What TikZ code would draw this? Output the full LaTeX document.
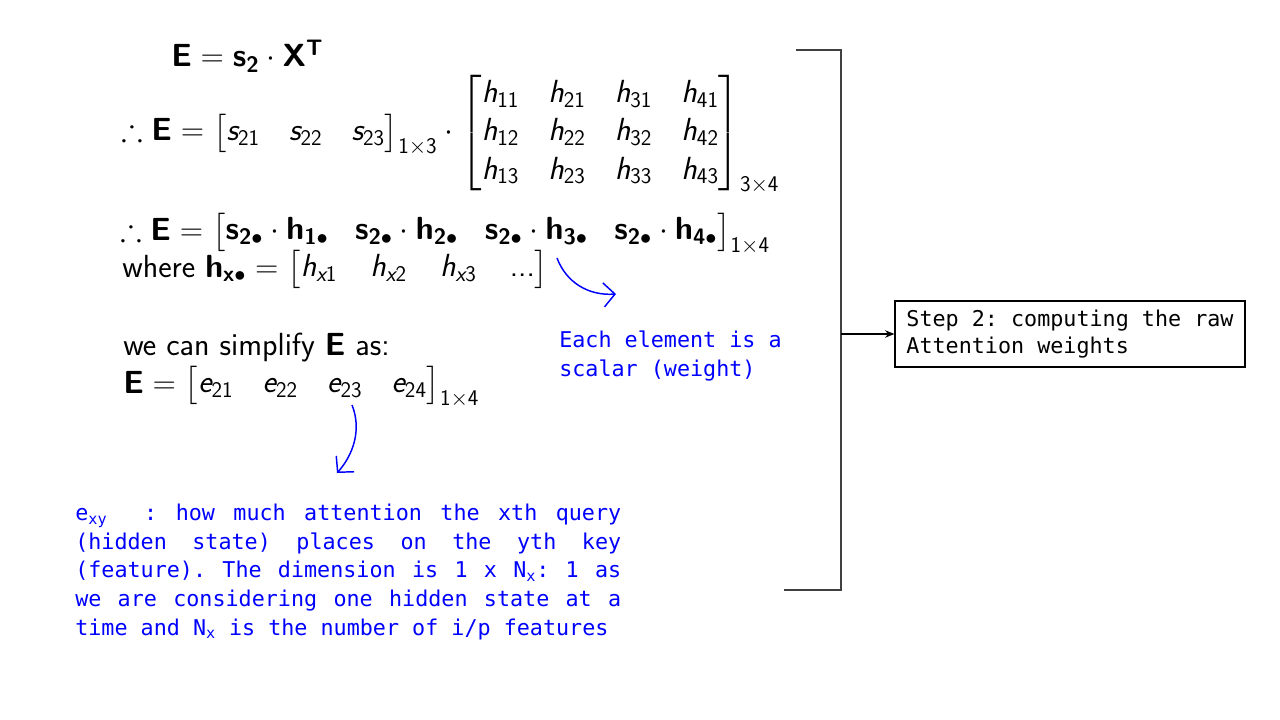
\RequirePackage{fix-cm}
\documentclass[tikz,border=0pt]{standalone}
\usepackage{amsmath,amssymb}
\usepackage[no-math]{fontspec}
\newfontfamily\codefont{DejaVu Sans Mono}
\SetSymbolFont{operators}{normal}{TU}{lmss}{m}{n}
\SetSymbolFont{letters}{normal}{TU}{lmss}{m}{sl}
\SetMathAlphabet{\mathbf}{normal}{TU}{lmss}{bx}{n}
\usetikzlibrary{arrows.meta}
\definecolor{noteblue}{RGB}{0,0,255}
\newcommand\jl[1]{\hbox to 409.5pt{\spaceskip=\fontdimen2\font plus 1fil\relax#1}}
\setlength{\arraycolsep}{11pt}
\begin{document}
\begin{tikzpicture}[x=0.75pt,y=-0.75pt,
  mathtxt/.style={anchor=base west,inner sep=0pt,font=\fontsize{24}{28.8}\selectfont\sffamily},
  note/.style={anchor=base west,inner sep=0pt,text=noteblue,font=\fontsize{16.3}{21.4}\selectfont\codefont\frenchspacing,align=left},
  bluearrow/.style={draw=noteblue,line width=1.1pt,-{Straight Barb[length=8.5pt,width=18pt]}},
  bracketline/.style={draw=black!75,line width=0.8pt},
  stepbox/.style={draw=black,line width=0.8pt,inner xsep=6.75pt,inner ysep=3pt,align=left,minimum width=262.5pt,minimum height=49.5pt,font=\fontsize{16.3}{20.3}\selectfont\codefont\frenchspacing}
]
\useasboundingbox (0,0) rectangle (1280,720);
\fill[white] (0,0) rectangle (1280,720);

\node[mathtxt] (l1) at (171,67) {$\mathbf{E}=\mathbf{s}_{\mathbf{2}}\cdot\mathbf{X}^{\mathbf{T}}$};
\node[mathtxt] (l2) at (121,141) {$\therefore\mathbf{E}=\begin{bmatrix}s_{21}&s_{22}&s_{23}\end{bmatrix}_{1\times3}\cdot\begin{bmatrix}h_{11}&h_{21}&h_{31}&h_{41}\\h_{12}&h_{22}&h_{32}&h_{42}\\h_{13}&h_{23}&h_{33}&h_{43}\end{bmatrix}_{3\times4}$};
\node[mathtxt] (l3) at (120,240) {\setlength{\arraycolsep}{10pt}$\therefore\mathbf{E}=\begin{bmatrix}\mathbf{s}_{\mathbf{2}\bullet}\cdot\mathbf{h}_{\mathbf{1}\bullet}&\mathbf{s}_{\mathbf{2}\bullet}\cdot\mathbf{h}_{\mathbf{2}\bullet}&\mathbf{s}_{\mathbf{2}\bullet}\cdot\mathbf{h}_{\mathbf{3}\bullet}&\mathbf{s}_{\mathbf{2}\bullet}\cdot\mathbf{h}_{\mathbf{4}\bullet}\end{bmatrix}_{1\times4}$};
\node[mathtxt] (l4) at (122,277) {\setlength{\arraycolsep}{12.5pt}where $\mathbf{h}_{\mathbf{x}\bullet}=\begin{bmatrix}h_{x1}&h_{x2}&h_{x3}&\textsf{...}\end{bmatrix}$};
\node[mathtxt] (l5) at (123,355) {we can simplify $\mathbf{E}$ as:};
\node[mathtxt] (l6) at (123,393) {$\mathbf{E}=\begin{bmatrix}e_{21}&e_{22}&e_{23}&e_{24}\end{bmatrix}_{1\times4}$};

\node[note] (n1) at (559,376) {Each element is a\\scalar (weight)};
\node[note] (n2) at (75,635) {\jl{e\textsubscript{xy}\ \ : how much attention the xth query}\\\jl{(hidden state) places on the yth key}\\\jl{(feature). The dimension is 1 x N\textsubscript{x}: 1 as}\\\jl{we are considering one hidden state at a}\\time and N\textsubscript{x} is the number of i/p features};

\node[stepbox] (step) at (1070,334) {Step 2: computing the raw\\Attention weights};

\coordinate (b1) at (796,50);
\coordinate (b2) at (841,50);
\coordinate (b3) at (841,590);
\coordinate (b4) at (784,590);
\coordinate (bm) at (841,334);
\draw[bracketline] (b1) -- (b2) -- (b3) -- (b4);
\draw[line width=1.6pt,-{Stealth[length=7pt,width=5.5pt]}] (bm) -- (step.west);

\coordinate (a1s) at (557,258);
\coordinate (a1e) at (616,294);
\draw[bluearrow] (a1s) .. controls (566,282) and (588,296) .. (a1e);
\coordinate (a2s) at (352,405);
\coordinate (a2e) at (337,473);
\draw[bluearrow] (a2s) .. controls (362,430) and (353,455) .. (a2e);
\end{tikzpicture}
\end{document}
